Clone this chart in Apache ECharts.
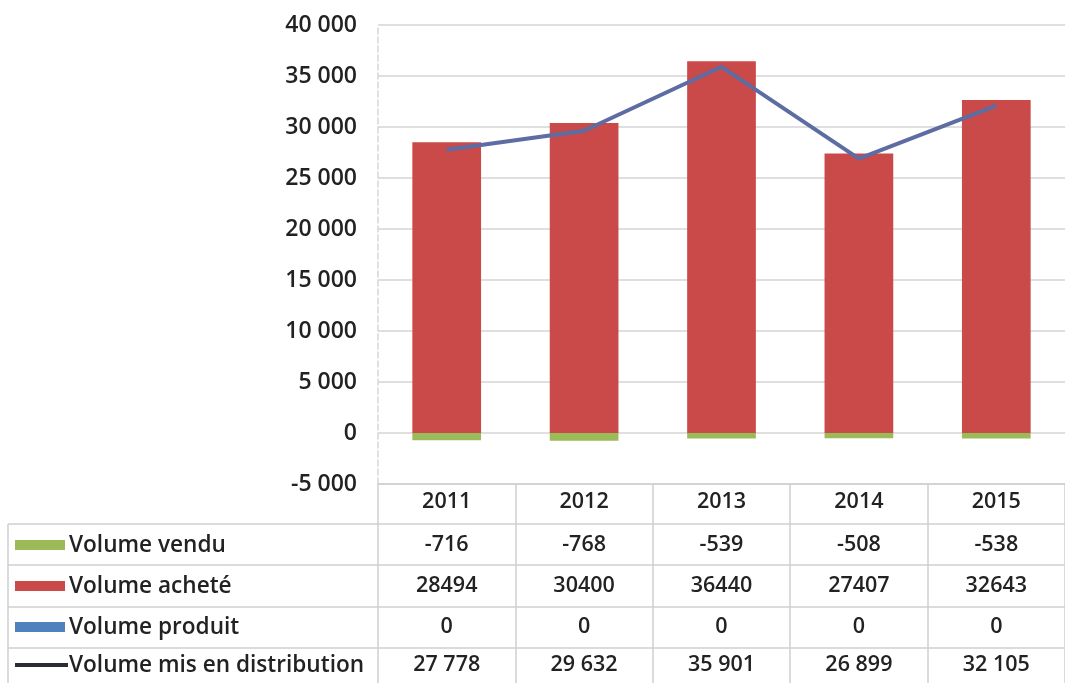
<!DOCTYPE html>
<html>
<head>
<meta charset="utf-8">
<script src="https://cdn.jsdelivr.net/npm/echarts@6/dist/echarts.min.js"></script>
<style>
  html, body { margin: 0; padding: 0; background: #fff; }
  #chart { width: 1065px; height: 683px; }
</style>
</head>
<body>
<div id="chart"></div>
<script>
// Years shown on the category axis
const years = ['2011', '2012', '2013', '2014', '2015'];

// Series values per year
const volumeVendu = [-716, -768, -539, -508, -538];
const volumeAchete = [28494, 30400, 36440, 27407, 32643];
const volumeProduit = [0, 0, 0, 0, 0];
const volumeDistribution = [27778, 29632, 35901, 26899, 32105];

// Row headers of the data table
const rowNames = ['Volume vendu', 'Volume acheté', 'Volume produit', 'Volume mis en distribution'];

// Value axis ticks
const yMin = -5000, yMax = 40000, yStep = 5000;

const FONT = '"Open Sans", Lato, sans-serif';
const WEIGHT = 600;
const TXT = '#222222';
const COLORS = { vendu: '#9bbb59', achete: '#c94a48', produit: '#4f81bd', distrib: '#5d6ca2' };

// Thousands separated by a space (French style)
function spaced(v) {
  const s = String(Math.abs(v)).replace(/\B(?=(\d{3})+(?!\d))/g, ' ');
  return (v < 0 ? '-' : '') + s;
}

// Layout of the plot and the table underneath
const GRID_LEFT = 378, GRID_TOP = 25, GRID_H = 459, GRID_W = 694;
const TABLE_TOP = GRID_TOP + GRID_H;           // -5000 level is the table's top edge
const ROW_LINES = [524, 565, 607, 648];        // horizontal rules of the table
const ROW_CENTERS = [545, 586, 627, 665];      // centres of the four data rows
const LABEL_MARGIN = 18;

// One category axis per table row, each carrying that row's values as labels
const rows = [
  years,
  volumeVendu.map(String),
  volumeAchete.map(String),
  volumeProduit.map(String),
  volumeDistribution.map(spaced)
];
const offsets = [0].concat(ROW_CENTERS.map(c => c - TABLE_TOP - LABEL_MARGIN));

const xAxes = rows.map((labels, i) => ({
  type: 'category',
  gridIndex: 0,
  position: 'bottom',
  offset: offsets[i],
  data: labels,
  boundaryGap: true,
  axisLine: { show: i === 0, onZero: false, lineStyle: { color: '#cfcfcf', width: 1.5 } },
  axisTick: {
    show: i === 0,
    alignWithLabel: false,
    length: 683 - TABLE_TOP,
    lineStyle: { color: '#cfcfcf', width: 1.5 }
  },
  axisLabel: {
    show: true,
    interval: 0,
    margin: LABEL_MARGIN,
    verticalAlign: 'middle',
    color: TXT,
    fontFamily: FONT,
    fontWeight: WEIGHT,
    fontSize: 21.5
  },
  splitLine: { show: false }
}));

// Table rules and the row headers with their legend keys
const graphics = [];
ROW_LINES.forEach(y => {
  graphics.push({
    type: 'line', shape: { x1: 8, y1: y, x2: 1065, y2: y },
    style: { stroke: '#cfcfcf', lineWidth: 1.5 }, silent: true
  });
});
graphics.push({
  type: 'line', shape: { x1: 8, y1: ROW_LINES[0], x2: 8, y2: 683 },
  style: { stroke: '#cfcfcf', lineWidth: 1.5 }, silent: true
});
const keyColors = [COLORS.vendu, COLORS.achete, COLORS.produit];
ROW_CENTERS.forEach((cy, i) => {
  if (i < 3) {
    graphics.push({
      type: 'rect', shape: { x: 15, y: cy - 5, width: 50, height: 10 },
      style: { fill: keyColors[i] }, silent: true
    });
  } else {
    graphics.push({
      type: 'line', shape: { x1: 15, y1: cy, x2: 68, y2: cy },
      style: { stroke: '#2a2c36', lineWidth: 4 }, silent: true
    });
  }
  graphics.push({
    type: 'text', x: 69, y: cy + 1,
    style: {
      text: rowNames[i], fill: TXT, font: WEIGHT + ' 22.6px ' + FONT,
      textVerticalAlign: 'middle', textAlign: 'left'
    },
    silent: true
  });
});

const chart = echarts.init(document.getElementById('chart'), null, { renderer: 'canvas' });
chart.setOption({
  backgroundColor: '#ffffff',
  animation: false,
  grid: { left: GRID_LEFT, top: GRID_TOP, width: GRID_W, height: GRID_H, containLabel: false },
  xAxis: xAxes,
  yAxis: {
    type: 'value',
    min: yMin, max: yMax, interval: yStep,
    axisLine: { show: true, lineStyle: { color: '#d6d6d6', width: 1.5, type: 'dashed' } },
    axisTick: { show: false },
    splitLine: { show: true, lineStyle: { color: '#d4d4d4', width: 1.5 } },
    axisLabel: {
      margin: 21, color: TXT, fontFamily: FONT, fontWeight: WEIGHT, fontSize: 23,
      formatter: v => spaced(v)
    }
  },
  series: [
    {
      name: 'Volume vendu', type: 'bar', stack: 'vol', xAxisIndex: 0,
      data: volumeVendu, barWidth: '50%', itemStyle: { color: COLORS.vendu }
    },
    {
      name: 'Volume acheté', type: 'bar', stack: 'vol', xAxisIndex: 0,
      data: volumeAchete, barWidth: '50%', itemStyle: { color: COLORS.achete }
    },
    {
      name: 'Volume produit', type: 'bar', stack: 'vol', xAxisIndex: 0,
      data: volumeProduit, barWidth: '50%', itemStyle: { color: COLORS.produit }
    },
    {
      name: 'Volume mis en distribution', type: 'line', xAxisIndex: 0,
      data: volumeDistribution, symbol: 'none', z: 5,
      lineStyle: { color: COLORS.distrib, width: 4 }
    }
  ],
  graphic: graphics
});
</script>
</body>
</html>
